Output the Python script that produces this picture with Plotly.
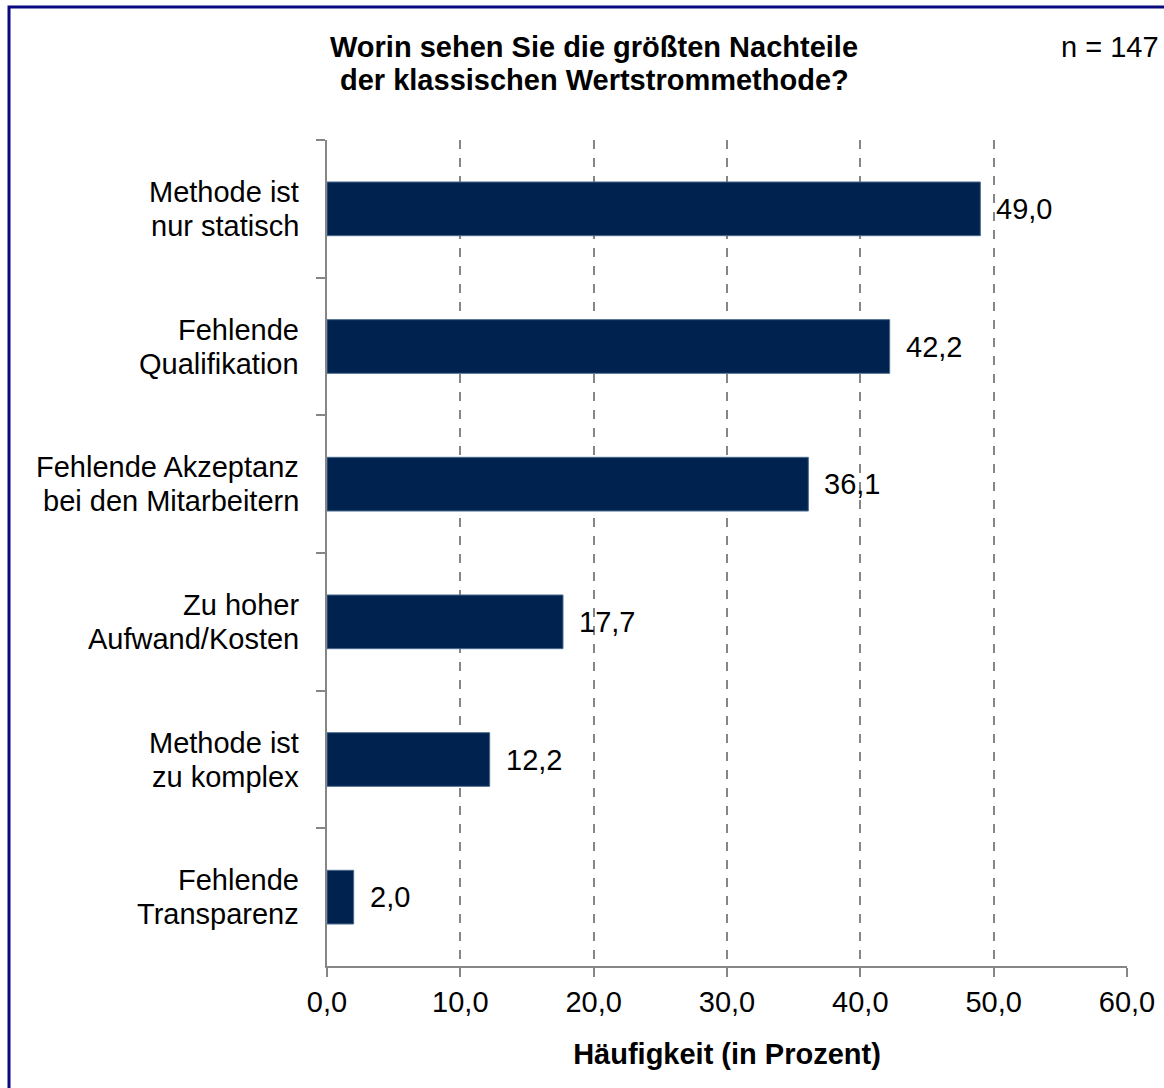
import plotly.graph_objects as go

categories = [
    "Methode ist<br>nur statisch",
    "Fehlende<br>Qualifikation",
    "Fehlende Akzeptanz<br>bei den Mitarbeitern",
    "Zu hoher<br>Aufwand/Kosten",
    "Methode ist<br>zu komplex",
    "Fehlende<br>Transparenz",
]
values = [49.0, 42.2, 36.1, 17.7, 12.2, 2.0]
x_ticks = [0, 10, 20, 30, 40, 50, 60]
title_lines = ["Worin sehen Sie die größten Nachteile", "der klassischen Wertstrommethode?"]

FONT = "Liberation Sans, Arial, sans-serif"
FS = 29
BAR = "#00224f"
GRAY = "#868686"
LINE_H = 34

W, H = 1164, 1088
L, R, T, B = 327, 37, 140, 122
PW = W - L - R
PH = H - T - B


def px_x(px):
    return (px - L) / PW


def px_y(py):
    return (H - B - py) / PH


fig = go.Figure()
fig.add_trace(go.Bar(
    x=values, y=categories, orientation="h",
    marker=dict(color=BAR, line=dict(color="#4a6a8f", width=1)),
    hoverinfo="skip",
))

for v, c in zip(values, categories):
    fig.add_annotation(
        x=v, y=c, xref="x", yref="y",
        text=f"{v:.1f}".replace(".", ","),
        showarrow=False, xanchor="left", xshift=14,
        font=dict(family=FONT, size=FS, color="black"),
    )
    lines = c.split("<br>")
    n = len(lines)
    for i, ln in enumerate(lines):
        fig.add_annotation(
            x=px_x(301), y=c, xref="paper", yref="y",
            text=ln, showarrow=False, xanchor="right", yanchor="middle",
            yshift=((n - 1) / 2 - i) * LINE_H,
            font=dict(family=FONT, size=FS, color="black"),
        )

fig.update_layout(
    width=W, height=H,
    margin=dict(l=L, r=R, t=T, b=B, autoexpand=False),
    paper_bgcolor="white", plot_bgcolor="white",
    separators=",.",
    bargap=0.61,
    showlegend=False,
    font=dict(family=FONT, size=FS, color="black"),
)

fig.update_xaxes(
    range=[0, 60], tickvals=x_ticks, tickformat=".1f",
    showgrid=True, gridcolor=GRAY, griddash="dash", gridwidth=2,
    showline=True, linecolor=GRAY, linewidth=2,
    ticks="outside", ticklen=9, tickwidth=2, tickcolor=GRAY,
    zeroline=False, automargin=False,
    title=dict(text="<b>Häufigkeit (in Prozent)</b>", standoff=27,
               font=dict(family=FONT, size=FS, color="black")),
    tickfont=dict(family=FONT, size=FS, color="black"),
)
fig.update_yaxes(
    autorange="reversed", type="category", tickson="boundaries",
    showgrid=False, showline=True, linecolor=GRAY, linewidth=2,
    ticks="outside", ticklen=9, tickwidth=2, tickcolor=GRAY,
    showticklabels=False, automargin=False,
)

for i, tl in enumerate(title_lines):
    fig.add_annotation(
        xref="paper", yref="paper", x=px_x(594), y=px_y(47 + i * 33),
        text=f"<b>{tl}</b>",
        showarrow=False, xanchor="center", yanchor="middle",
        font=dict(family=FONT, size=FS, color="black"),
    )
fig.add_annotation(
    xref="paper", yref="paper", x=px_x(1161), y=px_y(47),
    text="n = 147", showarrow=False, xanchor="right", yanchor="middle",
    font=dict(family=FONT, size=FS, color="black"),
)

fig.add_shape(
    type="rect", xref="paper", yref="paper",
    x0=px_x(9), x1=px_x(1190),
    y0=px_y(1110), y1=px_y(7),
    line=dict(color="#0a0a80", width=3), fillcolor="rgba(0,0,0,0)", layer="below",
)

fig.write_html(
    "out.html",
    config={"displayModeBar": False},
    post_script="document.body.style.margin='0';document.body.style.overflow='hidden';",
)
